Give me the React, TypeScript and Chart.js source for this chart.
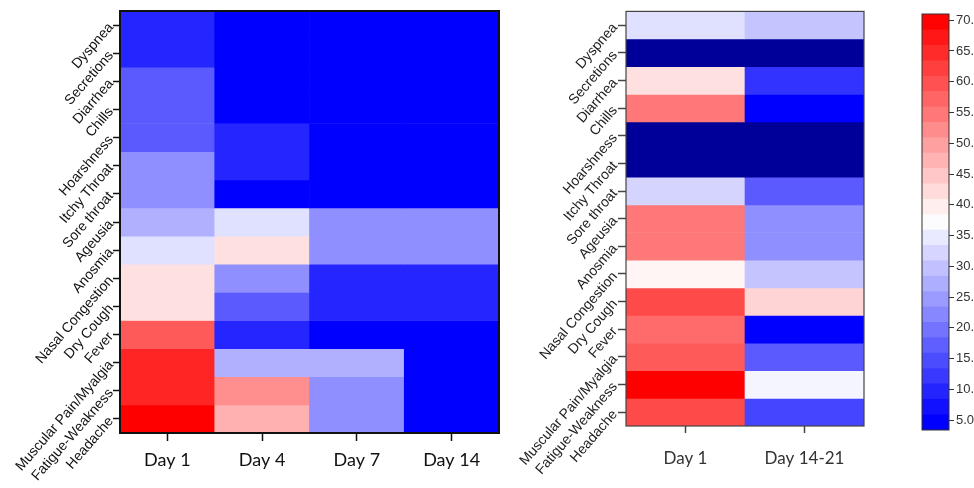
import React, { useEffect, useRef } from 'react';
import { Chart, registerables } from 'chart.js';
Chart.register(...registerables);

// ---- data ----
const symptoms = [
  'Dyspnea', 'Secretions', 'Diarrhea', 'Chills', 'Hoarshness', 'Itchy Throat', 'Sore throat',
  'Ageusia', 'Anosmia', 'Nasal Congestion', 'Dry Cough', 'Fever', 'Muscular Pain/Myalgia',
  'Fatigue-Weakness', 'Headache',
];

const daysA = ['Day 1', 'Day 4', 'Day 7', 'Day 14'];
const day1A = [9.7, 9.7, 16.5, 16.5, 16.5, 23.2, 23.2, 27.4, 33.5, 41.5, 41.5, 58.5, 65.3, 65.3, 70];
const day4A = [5, 5, 5, 5, 9.7, 9.7, 5, 33.5, 41.5, 23.2, 16.5, 9.7, 27.4, 51.8, 47.6];
const day7A = [5, 5, 5, 5, 5, 5, 5, 23.2, 23.2, 9.7, 9.7, 5, 27.4, 23.2, 23.2];
const day14A = [5, 5, 5, 5, 5, 5, 5, 23.2, 23.2, 9.7, 9.7, 5, 5, 5, 5];

const daysB = ['Day 1', 'Day 14-21'];
const day1B = [33.5, 0, 41.5, 54.7, 0, 0, 32.0, 54.7, 54.7, 38.8, 60.6, 56.5, 58.5, 70, 60.6];
const day1421B = [30.0, 0, 11.5, 5, 0, 0, 16.5, 23.2, 23.2, 30.0, 43.0, 5, 16.5, 36.2, 13.8];

const colorbarTicks = [5, 10, 15, 20, 25, 30, 35, 40, 45, 50, 55, 60, 65, 70];
const colorbarMin = 3.4;
const colorbarMax = 71;
const colorbarStep = 2.5;

// ---- colour map ----
function colorFor(v: number): string {
  if (v < 2) return '#000099';
  const lo = 5, mid = 37.5, hi = 70;
  const clamp = (t: number) => Math.max(0, Math.min(1, t));
  if (v <= mid) {
    const c = Math.round(255 * clamp((v - lo) / (mid - lo)));
    return `rgb(${c},${c},255)`;
  }
  const c = Math.round(255 * clamp((hi - v) / (hi - mid)));
  return `rgb(255,${c},${c})`;
}

function boxPlugin(color: string, width: number) {
  return {
    id: 'plotBox',
    afterDatasetsDraw(chart: any) {
      const { ctx, chartArea: a } = chart;
      ctx.save();
      ctx.strokeStyle = color;
      ctx.lineWidth = width;
      ctx.strokeRect(a.left, a.top, a.right - a.left, a.bottom - a.top);
      ctx.restore();
    },
  };
}

function heatConfig(days: string[], columns: number[][], o: any): any {
  const datasets = symptoms.map((name, i) => ({
    label: name,
    data: days.map(() => [i, i + 1]),
    backgroundColor: columns.map((col) => colorFor(col[i])),
    borderWidth: 0,
    grouped: false,
    barPercentage: 1,
    categoryPercentage: 1,
  }));
  return {
    type: 'bar',
    data: { labels: days, datasets },
    options: {
      responsive: false,
      animation: false,
      layout: { padding: { top: o.top, right: o.right, left: 0, bottom: 0 } },
      plugins: { legend: { display: false }, tooltip: { enabled: false } },
      scales: {
        x: {
          type: 'category',
          offset: true,
          border: { display: false },
          grid: {
            display: true,
            drawOnChartArea: false,
            offset: false,
            tickLength: o.xTick,
            tickColor: o.tickColor,
            tickWidth: 1.5,
          },
          ticks: {
            font: { family: 'Lato', size: o.xFont },
            color: o.xColor,
            padding: o.xPad,
            maxRotation: 0,
            minRotation: 0,
          },
          afterFit: (s: any) => { s.height = o.xHeight; },
        },
        y: {
          type: 'linear',
          reverse: true,
          min: 0,
          max: symptoms.length,
          border: { display: false },
          afterBuildTicks: (s: any) => { s.ticks = symptoms.map((_, i) => ({ value: i + 0.5 })); },
          grid: {
            drawOnChartArea: false,
            tickLength: o.yTick,
            tickColor: o.tickColor,
            tickWidth: 1.5,
          },
          ticks: {
            autoSkip: false,
            minRotation: 49,
            maxRotation: 49,
            callback: (_v: any, idx: number) => symptoms[idx],
            font: { family: '"Liberation Sans", Arial, sans-serif', size: o.yFont },
            color: o.yColor,
            padding: o.yPad,
          },
          afterFit: (s: any) => { s.width = o.yWidth; },
        },
      },
    },
    plugins: [boxPlugin(o.boxColor, o.boxWidth)],
  };
}

function colorbarConfig(): any {
  const datasets: any[] = [];
  for (let lo = colorbarMin; lo < colorbarMax - 0.01; lo += colorbarStep) {
    const hi = Math.min(colorbarMax, lo + colorbarStep);
    datasets.push({
      data: [[lo, hi]],
      backgroundColor: colorFor((lo + hi) / 2),
      borderWidth: 0,
      grouped: false,
      barPercentage: 1,
      categoryPercentage: 1,
    });
  }
  return {
    type: 'bar',
    data: { labels: [''], datasets },
    options: {
      responsive: false,
      animation: false,
      layout: { padding: { top: 14, left: 42, right: 0, bottom: 58 } },
      plugins: { legend: { display: false }, tooltip: { enabled: false } },
      scales: {
        x: { type: 'category', display: false, offset: true },
        y: {
          type: 'linear',
          position: 'right',
          min: colorbarMin,
          max: colorbarMax,
          border: { display: false },
          afterBuildTicks: (s: any) => { s.ticks = colorbarTicks.map((v) => ({ value: v })); },
          grid: { drawOnChartArea: false, tickLength: 5, tickColor: '#333', tickWidth: 1 },
          ticks: {
            autoSkip: false,
            callback: (v: any) => Number(v).toFixed(1),
            font: { family: '"Liberation Sans", Arial, sans-serif', size: 13 },
            color: '#333',
            padding: 2,
          },
          afterFit: (s: any) => { s.width = 25; },
        },
      },
    },
    plugins: [boxPlugin('#333', 1)],
  };
}

function ChartCanvas({ config, width, height, left }: any) {
  const ref = useRef<HTMLCanvasElement | null>(null);
  useEffect(() => {
    if (!ref.current) return;
    const chart = new Chart(ref.current, config());
    return () => chart.destroy();
  }, []);
  return (
    <canvas
      ref={ref}
      width={width}
      height={height}
      style={{ position: 'absolute', left, top: 0, width, height }}
    />
  );
}

export default function App() {
  return (
    <div style={{ position: 'absolute', left: 0, top: 0, width: 974, height: 488, background: '#fff', overflow: 'hidden' }}>
      <ChartCanvas
        left={0}
        width={512}
        height={488}
        config={() =>
          heatConfig(daysA, [day1A, day4A, day7A, day14A], {
            top: 11, right: 13, xHeight: 55, yWidth: 120,
            xTick: 8, yTick: 7, tickColor: '#111',
            xFont: 18, xColor: '#111', xPad: 8,
            yFont: 14, yColor: '#111', yPad: 2,
            boxColor: '#111', boxWidth: 2,
          })
        }
      />
      <ChartCanvas
        left={512}
        width={368}
        height={488}
        config={() =>
          heatConfig(daysB, [day1B, day1421B], {
            top: 10, right: 16, xHeight: 62, yWidth: 114,
            xTick: 7, yTick: 8, tickColor: '#444',
            xFont: 17, xColor: '#333', xPad: 15,
            yFont: 14, yColor: '#222', yPad: 3,
            boxColor: '#444', boxWidth: 1.2,
          })
        }
      />
      <ChartCanvas left={880} width={94} height={488} config={colorbarConfig} />
    </div>
  );
}
